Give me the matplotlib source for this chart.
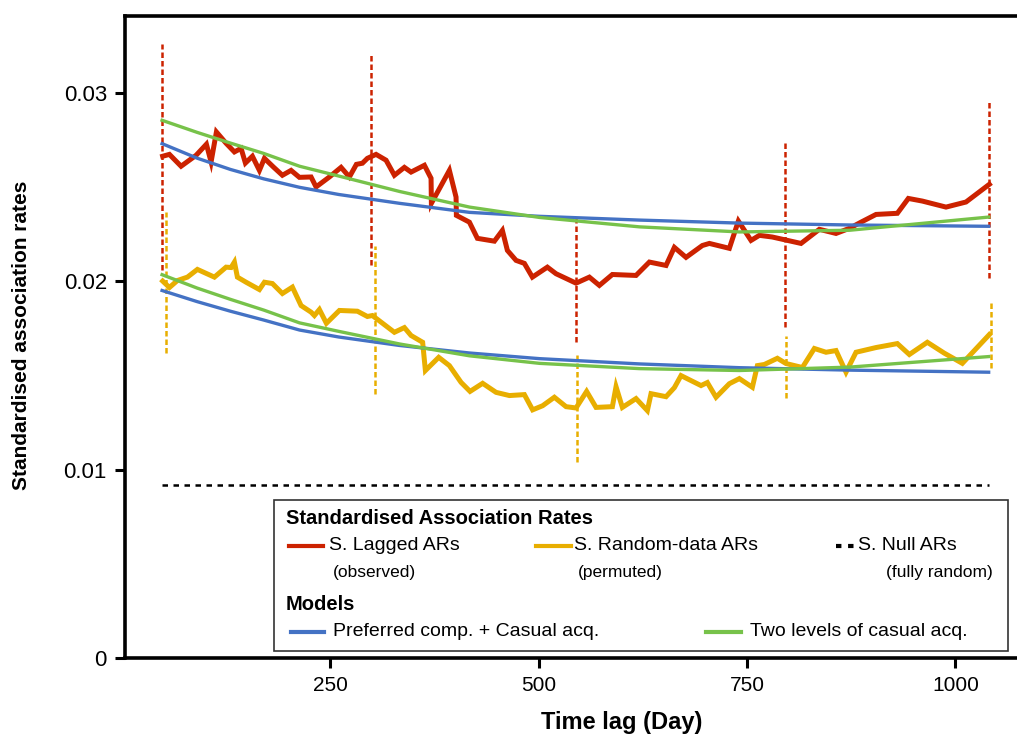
import matplotlib.pyplot as plt
from matplotlib.lines import Line2D
from matplotlib.patches import Rectangle

# observed lagged association rates (red)
lag_days = [48.7, 56.8, 70.8, 88.8, 101.2, 106.8, 113.2, 124.8, 134.8, 142.8, 148.0, 156.4,
            164.8, 170.8, 181.6, 192.4, 202.8, 212.8, 226.8, 232.8, 248.8, 262.8, 272.8, 281.2,
            288.4, 294.4, 304.8, 316.8, 326.8, 338.8, 346.8, 362.8, 370.8, 371.2, 392.8, 400.8,
            401.2, 416.8, 426.4, 446.8, 456.4, 462.4, 472.8, 482.8, 492.4, 510.4, 520.8, 544.8,
            560.8, 572.8, 588.4, 616.8, 632.8, 652.8, 662.8, 676.8, 696.4, 704.8, 728.8, 739.6,
            754.8, 764.8, 780.4, 814.8, 836.8, 856.8, 872.8, 886.8, 904.8, 930.4, 943.6, 960.4,
            988.8, 1012.8, 1040.8]
lag_ar = [0.02665, 0.02675, 0.02612, 0.02670, 0.02729, 0.02635, 0.02794, 0.02734, 0.02688,
          0.02707, 0.02629, 0.02665, 0.02590, 0.02654, 0.02608, 0.02564, 0.02590, 0.02553,
          0.02555, 0.02502, 0.02555, 0.02606, 0.02555, 0.02622, 0.02628, 0.02654, 0.02675,
          0.02644, 0.02564, 0.02606, 0.02581, 0.02617, 0.02548, 0.02415, 0.02590, 0.02448,
          0.02351, 0.02315, 0.02229, 0.02214, 0.02271, 0.02165, 0.02112, 0.02096, 0.02023,
          0.02076, 0.02041, 0.01991, 0.02023, 0.01979, 0.02037, 0.02032, 0.02103, 0.02085,
          0.02181, 0.02128, 0.02191, 0.02202, 0.02176, 0.02321, 0.02218, 0.02245, 0.02236,
          0.02202, 0.02277, 0.02255, 0.02282, 0.02315, 0.02356, 0.02362, 0.02441, 0.02427,
          0.02395, 0.02422, 0.02516]

# permuted (random-data) association rates (yellow)
rnd_days = [48.7, 56.8, 66.4, 78.4, 90.4, 110.8, 124.8, 130.8, 134.8, 138.4, 148.8, 164.8,
            170.8, 180.4, 192.4, 204.4, 214.8, 226.8, 230.8, 236.8, 245.2, 260.8, 282.4, 294.4,
            300.4, 326.8, 338.8, 346.8, 360.7, 364.0, 380.0, 392.8, 406.8, 417.6, 432.7, 448.8,
            464.8, 482.8, 492.7, 504.7, 518.8, 532.8, 544.8, 557.5, 568.8, 588.4, 592.8, 600.4,
            616.8, 630.4, 634.8, 652.8, 662.8, 670.8, 694.8, 702.4, 712.8, 728.8, 740.8, 756.4,
            762.4, 770.8, 786.4, 796.8, 816.4, 830.8, 844.8, 856.8, 868.8, 880.8, 904.8, 930.4,
            944.8, 966.4, 986.8, 1008.4, 1040.8]
rnd_ar = [0.02002, 0.01968, 0.02005, 0.02023, 0.02064, 0.02023, 0.02076, 0.02074, 0.02103,
          0.02023, 0.01996, 0.01957, 0.01996, 0.01989, 0.01936, 0.01970, 0.01872, 0.01837,
          0.01819, 0.01851, 0.01778, 0.01846, 0.01842, 0.01814, 0.01819, 0.01730, 0.01755,
          0.01713, 0.01677, 0.01527, 0.01597, 0.01553, 0.01464, 0.01416, 0.01459, 0.01411,
          0.01394, 0.01399, 0.01318, 0.01340, 0.01385, 0.01335, 0.01328, 0.01416, 0.01331,
          0.01335, 0.01441, 0.01331, 0.01378, 0.01314, 0.01404, 0.01388, 0.01436, 0.01500,
          0.01447, 0.01463, 0.01385, 0.01457, 0.01484, 0.01438, 0.01553, 0.01559, 0.01592,
          0.01564, 0.01543, 0.01644, 0.01624, 0.01633, 0.01518, 0.01624, 0.01649, 0.01670,
          0.01612, 0.01677, 0.01619, 0.01565, 0.01718]

# fitted models
model_days = [48, 90, 130, 170, 213, 260, 333, 417, 501, 621, 741, 873, 1040]
pref_obs = [0.02732, 0.02655, 0.02595, 0.02545, 0.02500, 0.02462, 0.02415, 0.02367, 0.02346,
            0.02326, 0.02310, 0.02300, 0.02293]
two_obs = [0.02856, 0.02792, 0.02735, 0.02680, 0.02612, 0.02560, 0.02478, 0.02395, 0.02340,
           0.02290, 0.02263, 0.02272, 0.02342]
pref_rnd = [0.01952, 0.01893, 0.01842, 0.01795, 0.01742, 0.01705, 0.01660, 0.01620, 0.01590,
            0.01562, 0.01542, 0.01529, 0.01518]
two_rnd = [0.02036, 0.01965, 0.01905, 0.01848, 0.01780, 0.01735, 0.01668, 0.01605, 0.01565,
           0.01537, 0.01527, 0.01545, 0.01601]

# confidence ranges (dashed verticals)
lag_ci_days = [48, 299, 545, 795, 1040]
lag_ci_lo = [0.0206, 0.0209, 0.0168, 0.0176, 0.0202]
lag_ci_hi = [0.0326, 0.0321, 0.0235, 0.0275, 0.0296]
rnd_ci_days = [53, 303, 546, 797, 1043]
rnd_ci_lo = [0.0162, 0.0140, 0.0104, 0.0138, 0.0154]
rnd_ci_hi = [0.0237, 0.0219, 0.0161, 0.0171, 0.0189]

null_days = [48, 1040]
null_ar = [0.0092, 0.0092]

xticks = [250, 500, 750, 1000]
yticks = [0, 0.01, 0.02, 0.03]
ytick_labels = ["0", "0.01", "0.02", "0.03"]

RED = "#CC2200"
YEL = "#E8AE00"
BLUE = "#4472C4"
GREEN = "#77C24A"
SANS = ["Liberation Sans", "DejaVu Sans"]

W, H = 1017, 738
fig = plt.figure(figsize=(W / 100, H / 100), dpi=100)
ax = fig.add_axes([125 / W, 1 - 658 / H, (W - 125) / W, (658 - 16) / H])


def fx(px):
    return px / W


def fy(py):
    return 1 - py / H


ax.vlines(lag_ci_days, lag_ci_lo, lag_ci_hi, colors=RED, linestyles=(0, (2.2, 1.2)), linewidth=1.8, zorder=2)
ax.vlines(rnd_ci_days, rnd_ci_lo, rnd_ci_hi, colors=YEL, linestyles=(0, (2.2, 1.2)), linewidth=1.8, zorder=2)
ax.plot(null_days, null_ar, color="black", linestyle=(0, (2.2, 2.2)), linewidth=1.8, zorder=2)

ax.plot(lag_days, lag_ar, color=RED, linewidth=3.6, solid_joinstyle="miter", zorder=3)
ax.plot(rnd_days, rnd_ar, color=YEL, linewidth=3.6, solid_joinstyle="miter", zorder=3)
ax.plot(model_days, pref_obs, color=BLUE, linewidth=2.4, zorder=4)
ax.plot(model_days, pref_rnd, color=BLUE, linewidth=2.4, zorder=4)
ax.plot(model_days, two_obs, color=GREEN, linewidth=2.4, zorder=5)
ax.plot(model_days, two_rnd, color=GREEN, linewidth=2.4, zorder=5)

ax.set_xlim(3.5, 1074)
ax.set_ylim(0, 0.0341)
ax.set_xticks(xticks)
ax.set_xticklabels([str(t) for t in xticks], fontsize=15, family=SANS)
ax.set_yticks(yticks)
ax.set_yticklabels(ytick_labels, fontsize=16, family=SANS)
ax.tick_params(direction="out", length=7, width=2.2, pad=6)
for side in ("left", "bottom", "top"):
    ax.spines[side].set_linewidth(2.6)
ax.spines["right"].set_visible(False)

fig.text(fx(622), fy(722), "Time lag (Day)", ha="center", va="center",
         fontsize=17, fontweight="bold", family=SANS)
fig.text(fx(22), fy(335), "Standardised association rates", ha="center", va="center",
         rotation=90, fontsize=15, fontweight="bold", family=SANS)

# hand-built legend box
fig.patches.append(Rectangle((fx(274), fy(651)), fx(1008) - fx(274), fy(500) - fy(651),
                             transform=fig.transFigure, facecolor="white", edgecolor="#333333",
                             linewidth=1.2, zorder=10))


def key(x0, x1, y, color, ls="-"):
    fig.lines.append(Line2D([fx(x0), fx(x1)], [fy(y), fy(y)], transform=fig.transFigure,
                            color=color, linewidth=3.0, linestyle=ls, zorder=11))


def label(x, y, s, size=14, weight="normal", ha="left"):
    fig.text(fx(x), fy(y), s, ha=ha, va="center", fontsize=size, fontweight=weight,
             family=SANS, zorder=12)


label(286, 518, "Standardised Association Rates", size=14.5, weight="bold")
key(289, 323, 546, RED)
label(329, 546, "S. Lagged ARs")
label(333, 573, "(observed)", size=12.5)
key(536, 571, 546, YEL)
label(574, 546, "S. Random-data ARs")
label(578, 573, "(permuted)", size=12.5)
key(836, 857, 546, "black", ls=(0, (1.3, 1.6)))
label(858, 546, "S. Null ARs")
label(993, 573, "(fully random)", size=12.5, ha="right")
label(286, 604, "Models", size=14.5, weight="bold")
key(291, 324, 632, BLUE)
label(333, 632, "Preferred comp. + Casual acq.")
key(706, 741, 632, GREEN)
label(750, 632, "Two levels of casual acq.")

fig.savefig("out.png", dpi=100)
